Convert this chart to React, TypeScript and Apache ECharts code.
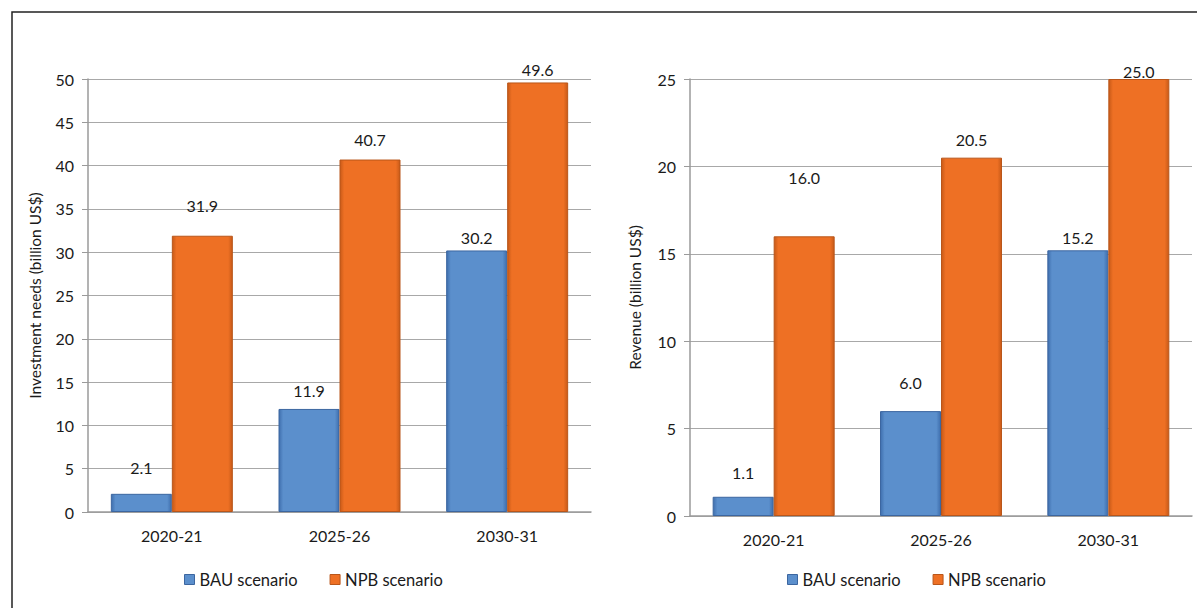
import React, { useEffect, useRef } from "react";
import * as echarts from "echarts";

const categories = ["2020-21", "2025-26", "2030-31"];
const seriesNames = ["BAU scenario", "NPB scenario"];
const investmentBAU = [2.1, 11.9, 30.2];
const investmentNPB = [31.9, 40.7, 49.6];
const revenueBAU = [1.1, 6.0, 15.2];
const revenueNPB = [16.0, 20.5, 25.0];
const investmentAxis = { min: 0, max: 50, interval: 5 };
const revenueAxis = { min: 0, max: 25, interval: 5 };
const axisTitles = ["Investment needs (billion US$)", "Revenue (billion US$)"];

// label lift above each bar (as placed in the original)
const liftInvBAU = [18, 10, 5];
const liftInvNPB = [22, 12, 5];
const liftRevBAU = [16, 21, 5];
const liftRevNPB = [51, 10, 0];

const FONT = "Lato, 'Open Sans', sans-serif";
const TXT = "#1a1a1a";

const barFill = (main: string, edge: string) =>
  new echarts.graphic.LinearGradient(0, 0, 1, 0, [
    { offset: 0, color: edge },
    { offset: 0.07, color: main },
    { offset: 0.93, color: main },
    { offset: 1, color: edge },
  ]);

export default function App() {
  const ref = useRef<HTMLDivElement>(null);
  useEffect(() => {
    document.body.style.margin = "0";
    const chart = echarts.init(ref.current!, null, { renderer: "svg" });
    const blue = { main: "#5b8fcc", edge: "#3f6fae", border: "#3c66a0" };
    const orange = { main: "#ee7024", edge: "#c85a18", border: "#b9561a" };

    const mkSeries = (name: string, vals: number[], lifts: number[], axis: number, c: any) => ({
      type: "bar",
      name,
      xAxisIndex: axis,
      yAxisIndex: axis,
      barWidth: 61,
      barGap: "0%",
      data: vals.map((v, i) => ({ value: v, label: { distance: lifts[i] } })),
      itemStyle: { color: barFill(c.main, c.edge), borderColor: c.border, borderWidth: 1 },
      label: {
        show: true,
        position: "top",
        formatter: (p: any) => Number(p.value).toFixed(1),
        fontFamily: FONT,
        fontSize: 16,
        color: TXT,
      },
    });

    const mkX = (gi: number) => ({
      type: "category",
      gridIndex: gi,
      data: categories,
      axisLine: { lineStyle: { color: "#9a9a9a", width: 1.5 } },
      axisTick: { show: false },
      axisLabel: { fontFamily: FONT, fontSize: 16, color: TXT, margin: 15 },
    });
    const mkY = (gi: number, ax: any, gap: number) => ({
      type: "value",
      gridIndex: gi,
      min: ax.min,
      max: ax.max,
      interval: ax.interval,
      name: axisTitles[gi],
      nameLocation: "middle",
      nameGap: gap,
      nameTextStyle: { fontFamily: FONT, fontSize: 15.5, color: TXT },
      axisLine: { show: true, lineStyle: { color: "#9a9a9a", width: 1.5 } },
      axisTick: { show: true, length: 6, lineStyle: { color: "#9a9a9a" } },
      axisLabel: { fontFamily: FONT, fontSize: 16, color: TXT, margin: 14 },
      splitLine: { show: true, lineStyle: { color: "#a8a8a8", width: 1.2 } },
    });

    const legendBase = {
      orient: "horizontal",
      top: 566,
      itemWidth: 10,
      itemHeight: 10,
      itemGap: 32,
      textStyle: { fontFamily: FONT, fontSize: 16.5, color: TXT },
      data: [
        { name: seriesNames[0], icon: "rect", itemStyle: { color: blue.main, borderColor: blue.border, borderWidth: 1 } },
        { name: seriesNames[1], icon: "rect", itemStyle: { color: orange.main, borderColor: orange.border, borderWidth: 1 } },
      ],
    };

    chart.setOption({
      animation: false,
      backgroundColor: "#ffffff",
      graphic: [
        {
          type: "rect",
          shape: { x: 12, y: 12, width: 1300, height: 700 },
          style: { fill: "none", stroke: "#222", lineWidth: 1.5 },
          silent: true,
        },
      ],
      grid: [
        { left: 88, top: 79, width: 503, height: 433 },
        { left: 690, top: 79, width: 502, height: 437 },
      ],
      xAxis: [mkX(0), mkX(1)],
      yAxis: [mkY(0, investmentAxis, 45), mkY(1, revenueAxis, 47)],
      legend: [
        { ...legendBase, left: 179 },
        { ...legendBase, left: 782 },
      ],
      series: [
        mkSeries(seriesNames[0], investmentBAU, liftInvBAU, 0, blue),
        mkSeries(seriesNames[1], investmentNPB, liftInvNPB, 0, orange),
        mkSeries(seriesNames[0], revenueBAU, liftRevBAU, 1, blue),
        mkSeries(seriesNames[1], revenueNPB, liftRevNPB, 1, orange),
      ],
    });
    return () => chart.dispose();
  }, []);
  return <div ref={ref} style={{ position: "absolute", left: 0, top: 0, width: 1197, height: 608 }} />;
}
